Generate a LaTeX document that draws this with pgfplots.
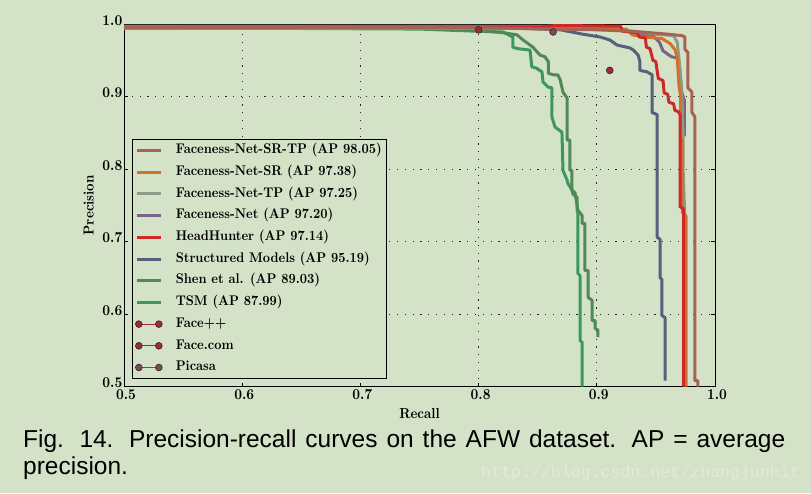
\documentclass[border=0pt]{standalone}
\usepackage{fontspec}
\setmainfont{lmroman10-regular}[Extension=.otf, BoldFont=lmroman10-bold, ItalicFont=lmroman10-italic, FakeStretch=0.9]
\newfontfamily\capfont{Liberation Sans}
\newfontfamily\wmfont{Liberation Mono}
\usepackage{pgfplots}
\pgfplotsset{compat=1.18}
\definecolor{bg}{RGB}{212,227,200}
\definecolor{cSRTP}{RGB}{168,98,84}
\definecolor{cSR}{RGB}{210,112,45}
\definecolor{cTP}{RGB}{142,155,136}
\definecolor{cFN}{RGB}{120,100,135}
\definecolor{cHH}{RGB}{208,40,40}
\definecolor{cSM}{RGB}{85,96,124}
\definecolor{cShen}{RGB}{80,136,86}
\definecolor{cTSM}{RGB}{60,152,90}
\definecolor{cFace}{RGB}{155,45,60}
\definecolor{cPicasa}{RGB}{120,75,95}
\definecolor{cEdge}{RGB}{55,30,30}
\definecolor{wm}{RGB}{226,234,220}
\pgfplotsset{
  lineleg/.style={legend image code/.code={\draw[##1] (0pt,0pt) -- (24pt,0pt);}},
  markleg/.style={legend image code/.code={\draw[mark repeat=2,mark phase=1,##1] plot coordinates {(2pt,0pt) (12pt,0pt) (22pt,0pt)};}},
  curve/.style={line width=3pt, line join=round},
}
\begin{document}
\begin{tikzpicture}
\fill[bg] (0pt,0pt) rectangle (811pt,493pt);
\begin{axis}[
  at={(124pt,106.5pt)}, anchor=south west,
  scale only axis, width=591pt, height=362.5pt,
  xmin=0.5, xmax=1.0, ymin=0.5, ymax=1.0,
  xtick={0.5,0.6,0.7,0.8,0.9,1.0},
  ytick={0.5,0.6,0.7,0.8,0.9,1.0},
  /pgf/number format/fixed,
  /pgf/number format/fixed zerofill,
  /pgf/number format/precision=1,
  /pgf/number format/assume math mode=true,
  tick label style={font=\fontsize{15}{17}\selectfont\bfseries},
  every x tick label/.append style={inner sep=3pt, xshift=2pt},
  every y tick label/.append style={inner sep=1.5pt, yshift=3.5pt},
  grid=major,
  major grid style={black!85, line width=0.9pt, dash pattern=on 1.2pt off 6.6pt},
  axis line style={black, line width=0.8pt},
  tick align=inside, major tick length=4pt, tick style={black, line width=0.8pt},
  axis background/.style={fill=bg},
  xlabel={Recall}, ylabel={Precision},
  label style={font=\fontsize{14.5}{16}\selectfont\bfseries, inner sep=0pt},
  xlabel style={at={(axis description cs:0.5,0)}, anchor=north, yshift=-21.5pt},
  ylabel style={at={(axis description cs:-0.0508,0.5)}, anchor=south, rotate=0},
  lineleg,
  legend cell align=left,
  legend style={at={(axis description cs:0.0135,0.683)}, anchor=north west,
    draw=black, line width=0.7pt, fill=bg,
    font=\fontsize{14}{16}\selectfont\bfseries,
    inner sep=3pt, row sep=5.2pt, column sep=12pt,
    nodes={inner sep=1.5pt, text height=10pt, text depth=3.5pt}},
]
% legend images first
\addlegendimage{curve, cSRTP}\addlegendentry{Faceness-Net-SR-TP (AP 98.05)}
\addlegendimage{curve, cSR}\addlegendentry{Faceness-Net-SR (AP 97.38)}
\addlegendimage{curve, cTP}\addlegendentry{Faceness-Net-TP (AP 97.25)}
\addlegendimage{curve, cFN}\addlegendentry{Faceness-Net (AP 97.20)}
\addlegendimage{curve, cHH}\addlegendentry{HeadHunter (AP 97.14)}
\addlegendimage{curve, cSM}\addlegendentry{Structured Models (AP 95.19)}
\addlegendimage{curve, cShen}\addlegendentry{Shen et al. (AP 89.03)}
\addlegendimage{curve, cTSM}\addlegendentry{TSM (AP 87.99)}
\addlegendimage{markleg, cFace, line width=0.8pt, mark=*, mark size=3.4pt, mark options={fill=cFace, draw=cEdge, line width=0.6pt}}\addlegendentry{Face++}
\addlegendimage{markleg, cFace, line width=0.8pt, mark=*, mark size=3.4pt, mark options={fill=cFace, draw=cEdge, line width=0.6pt}}\addlegendentry{Face.com}
\addlegendimage{markleg, cPicasa, line width=0.8pt, mark=*, mark size=3.4pt, mark options={fill=cPicasa, draw=cEdge, line width=0.6pt}}\addlegendentry{Picasa}

% TSM
\addplot[curve, cTSM, forget plot] coordinates {
(0.5,0.995) (0.75,0.993) (0.7986,0.990) (0.8206,0.989) (0.829,0.982) (0.829,0.968)
(0.833,0.966) (0.8435,0.964) (0.845,0.941) (0.849,0.939) (0.8536,0.934) (0.8545,0.92)
(0.8587,0.913) (0.862,0.912) (0.862,0.872) (0.8646,0.858) (0.867,0.855) (0.8705,0.851)
(0.8714,0.798) (0.8748,0.785) (0.8756,0.78) (0.879,0.771) (0.8799,0.765) (0.8833,0.761)
(0.8833,0.743) (0.884,0.74) (0.884,0.656) (0.8858,0.653) (0.8858,0.5635) (0.8875,0.561) (0.8875,0.5)};
% Shen et al.
\addplot[curve, cShen, forget plot] coordinates {
(0.5,0.995) (0.75,0.994) (0.80,0.991) (0.8206,0.988) (0.8325,0.985) (0.8376,0.978)
(0.846,0.968) (0.852,0.957) (0.856,0.955) (0.859,0.948) (0.859,0.932) (0.863,0.930)
(0.867,0.930) (0.869,0.923) (0.8714,0.906) (0.8748,0.898) (0.8748,0.84) (0.8773,0.84)
(0.8773,0.798) (0.879,0.798) (0.879,0.771) (0.8816,0.767) (0.884,0.743) (0.8875,0.736)
(0.8875,0.725) (0.89,0.725) (0.89,0.66) (0.8926,0.66) (0.8926,0.623) (0.896,0.619)
(0.896,0.591) (0.8985,0.591) (0.8985,0.58) (0.901,0.578) (0.901,0.568)};
% Structured Models
\addplot[curve, cSM, forget plot] coordinates {
(0.5,0.996) (0.80,0.996) (0.869,0.992) (0.888,0.986) (0.903,0.982) (0.911,0.978)
(0.917,0.971) (0.928,0.967) (0.931,0.964) (0.935,0.957) (0.9365,0.948) (0.9365,0.936)
(0.9425,0.934) (0.9467,0.930) (0.9467,0.878) (0.951,0.875) (0.951,0.706) (0.9535,0.703)
(0.9535,0.65) (0.955,0.648) (0.955,0.598) (0.9577,0.595) (0.9577,0.508)};
% Faceness-Net
\addplot[curve, cFN, forget plot] coordinates {
(0.5,0.997) (0.86,0.997) (0.92,0.993) (0.935,0.987) (0.948,0.983) (0.953,0.975)
(0.956,0.963) (0.963,0.955) (0.968,0.953) (0.970,0.94) (0.972,0.905) (0.974,0.895) (0.974,0.845)};
% Faceness-Net-TP
\addplot[curve, cTP, forget plot] coordinates {
(0.5,0.994) (0.88,0.994) (0.93,0.990) (0.95,0.986) (0.965,0.984) (0.968,0.975)
(0.970,0.945) (0.972,0.90) (0.973,0.85) (0.973,0.80) (0.9745,0.735) (0.9745,0.727)};
% Faceness-Net-SR
\addplot[curve, cSR, forget plot] coordinates {
(0.5,0.996) (0.85,0.995) (0.925,0.993) (0.93,0.985) (0.94,0.982) (0.955,0.980)
(0.962,0.973) (0.966,0.965) (0.968,0.955) (0.9695,0.915) (0.971,0.899) (0.971,0.845)
(0.9725,0.838) (0.9725,0.74) (0.9755,0.735) (0.9755,0.5)};
% HeadHunter
\addplot[curve, cHH, forget plot] coordinates {
(0.5,0.995) (0.85,0.995) (0.865,0.998) (0.92,0.997) (0.922,0.990) (0.934,0.988)
(0.936,0.982) (0.941,0.981) (0.942,0.968) (0.945,0.966) (0.9475,0.950) (0.950,0.948)
(0.951,0.936) (0.952,0.925) (0.956,0.922) (0.957,0.905) (0.960,0.903) (0.961,0.892)
(0.965,0.890) (0.966,0.881) (0.969,0.879) (0.9704,0.875) (0.9704,0.748) (0.9735,0.745) (0.9735,0.5)};
% Faceness-Net-SR-TP
\addplot[curve, cSRTP, forget plot] coordinates {
(0.5,0.995) (0.80,0.995) (0.86,0.993) (0.90,0.992) (0.93,0.990) (0.945,0.988)
(0.96,0.986) (0.972,0.984) (0.9746,0.982) (0.9746,0.965) (0.977,0.961) (0.977,0.912)
(0.9805,0.906) (0.9805,0.878) (0.983,0.872) (0.983,0.508) (0.9855,0.508) (0.9855,0.5)};
% single-point detectors
\addplot[only marks, mark=*, mark size=3.4pt, mark options={fill=cFace, draw=cEdge, line width=0.6pt}, forget plot] coordinates {(0.8,0.992)};
\addplot[only marks, mark=*, mark size=3.4pt, mark options={fill=cFace, draw=cEdge, line width=0.6pt}, forget plot] coordinates {(0.911,0.936)};
\addplot[only marks, mark=*, mark size=3.4pt, mark options={fill=cPicasa, draw=cEdge, line width=0.6pt}, forget plot] coordinates {(0.863,0.989)};
\end{axis}
\node[anchor=north west, inner sep=0pt, text width=762pt, align=justify,
      font=\capfont\fontsize{24.5}{27}\selectfont] at (23pt,63pt)
  {\tolerance=10000 \hyphenpenalty=10000 \exhyphenpenalty=10000 Fig. 14. Precision-recall curves on the AFW dataset. AP = average precision.};
\node[anchor=base west, inner sep=0pt, text=wm, font=\wmfont\fontsize{16.6}{18}\selectfont] at (481pt,16pt)
  {http://blog.csdn.net/zhangjunhit};
\end{tikzpicture}
\end{document}
